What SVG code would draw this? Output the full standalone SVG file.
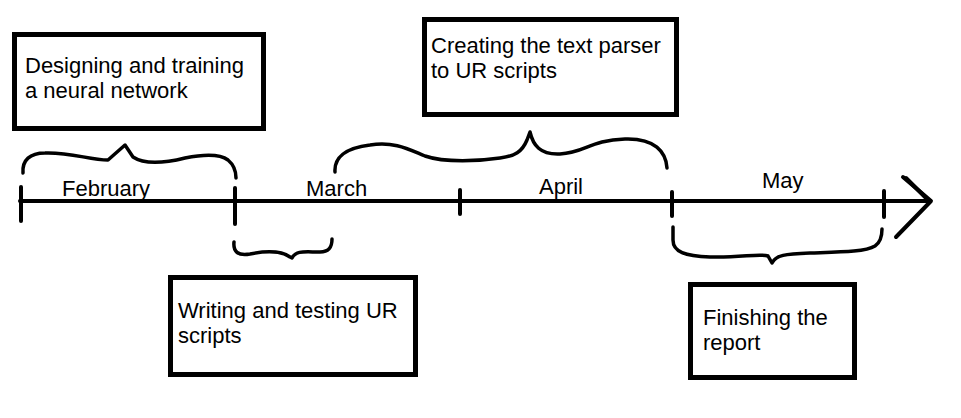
<svg xmlns="http://www.w3.org/2000/svg" width="961" height="418" viewBox="0 0 961 418">
<style>
  .box { fill: #ffffff; stroke: #000000; stroke-width: 5; }
  .t { font-family: "Liberation Sans", Arial, sans-serif; font-size: 22px; fill: #000000; }
  .ln { fill: none; stroke: #000000; stroke-width: 4; stroke-linecap: round; stroke-linejoin: round; }
  .br { fill: none; stroke: #000000; stroke-width: 3.5; stroke-linecap: round; stroke-linejoin: round; }
</style>
<rect width="961" height="418" fill="#ffffff"/>
<g id="connectors">
  <!-- timeline -->
  <path class="ln" d="M20,201 L930,201"/>
  <path class="ln" d="M21,187 L21,221"/>
  <path class="ln" d="M235,188 L235,224"/>
  <path class="ln" d="M460,190 L460,214"/>
  <path class="ln" d="M672,192 L672,216"/>
  <path class="ln" d="M884,191 L884,217"/>
  <path class="ln" d="M903,177 L931,201 L896,237"/>
  <path class="ln" d="M906,178 L929,201" stroke-width="3"/>
  <!-- braces -->
  <path class="br" d="M23,173 C22,160 30,153 45,153 C70,152 90,160 108,160 L125,145 L133,157 C145,165 165,163 185,158 C205,154 220,154 228,160 C234,165 236,172 236,178"/>
  <path class="br" d="M234,242 C233,252 238,256 250,254 C265,251 280,250 290,257 L292,258 C296,250 305,252 320,252 C330,252 332,246 332,239"/>
  <path class="br" d="M335,172 C334,158 345,148 370,145 C395,141 410,150 425,156 C445,163 480,161 500,158 C515,156 522,152 527,140 L530,132 C533,145 540,155 560,154 C585,153 590,140 625,139 C655,138 666,152 667,168"/>
  <path class="br" d="M673,227 L673,240 C673,252 685,256 710,257 C740,258 760,253 768,256 L772,263 C776,255 785,254 810,253 C840,252 865,252 875,246 C881,242 882,236 882,229"/>
</g>
<g id="months">
  <text class="t" x="62" y="196">February</text>
  <text class="t" x="306" y="196">March</text>
  <text class="t" x="539" y="194">April</text>
  <text class="t" x="762" y="188">May</text>
</g>
<g id="node-neural">
  <rect class="box" x="14.5" y="34.5" width="249" height="94"/>
  <text class="t" x="25" y="73">Designing and training</text>
  <text class="t" x="25" y="98">a neural network</text>
</g>
<g id="node-ur">
  <rect class="box" x="170.5" y="277.5" width="245" height="97"/>
  <text class="t" x="178" y="318">Writing and testing UR</text>
  <text class="t" x="178" y="343">scripts</text>
</g>
<g id="node-parser">
  <rect class="box" x="424.5" y="19.5" width="252" height="95"/>
  <text class="t" x="431" y="53">Creating the text parser</text>
  <text class="t" x="431" y="78">to UR scripts</text>
</g>
<g id="node-report">
  <rect class="box" x="690.5" y="284.5" width="164" height="93"/>
  <text class="t" x="703" y="325">Finishing the</text>
  <text class="t" x="703" y="350">report</text>
</g>
</svg>
